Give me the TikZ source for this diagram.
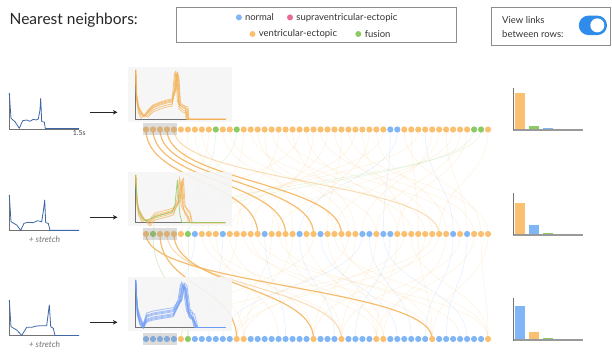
\documentclass[tikz,border=0pt]{standalone}
\usepackage{fontspec}
\setmainfont{Lato}
\usetikzlibrary{arrows.meta}
\pgfdeclarelayer{bg}
\pgfsetlayers{bg,main}
\definecolor{cO}{RGB}{250,192,112}
\definecolor{cB}{RGB}{128,182,245}
\definecolor{cG}{RGB}{140,202,100}
\definecolor{cP}{RGB}{232,106,150}
\definecolor{cL}{RGB}{244,178,88}
\definecolor{sigblue}{RGB}{62,104,165}
\definecolor{tglblue}{RGB}{48,140,235}
\begin{document}
\begin{tikzpicture}[x=1pt,y=-1pt,
  dot/.style={circle,inner sep=0pt,minimum size=6.2pt,draw=none},
  ldot/.style={circle,inner sep=0pt,minimum size=6pt,draw=none},
  strong/.style={line width=1.2pt,draw opacity=0.85},
  medium/.style={line width=1pt,draw opacity=0.45},
  faint/.style={line width=0.7pt,draw opacity=0.17},
  axisline/.style={draw=black!55,line width=0.8pt},
  baraxis/.style={draw=black!40,line width=1.6pt},
  sig/.style={draw=sigblue,line width=0.8pt,line join=round},
  trO/.style={draw=cL,line width=0.8pt,draw opacity=0.7,line join=round},
  trG/.style={draw=cG,line width=0.8pt,draw opacity=0.8,line join=round},
  trB/.style={draw=cB!85!blue,line width=0.8pt,draw opacity=0.6,line join=round},
  hl/.style={fill=black!45,fill opacity=0.3},
  chartbg/.style={fill=black!4,fill opacity=0.92},
  lgtext/.style={inner sep=0pt,anchor=west,font=\fontsize{9.5}{11}\selectfont,text=black!80},
  arr/.style={-{Stealth[length=4.5pt,width=4.5pt,inset=1.2pt]},line width=1pt,draw=black!85}
]
\useasboundingbox (0,0) rectangle (612,352);

% ---------- header ----------
\node[inner sep=0pt,anchor=west,font=\fontsize{15.5}{18}\selectfont,text=black!85] (title) at (9.5,20) {Nearest neighbors:};
\draw[draw=black!45,line width=0.7pt] (176.8,7) rectangle (455.9,42.2);
\node[ldot,fill=cB] (lgdB) at (238.9,17.4) {};
\node[lgtext] (lgB) at (244.8,17.4) {normal};
\node[ldot,fill=cP] (lgdP) at (290,17.4) {};
\node[lgtext] (lgP) at (296.2,17.4) {supraventricular-ectopic};
\node[ldot,fill=cO] (lgdO) at (252.5,34) {};
\node[lgtext] (lgO) at (258.6,34) {ventricular-ectopic};
\node[ldot,fill=cG] (lgdG) at (358.3,34) {};
\node[lgtext] (lgG) at (364.6,34) {fusion};

\draw[draw=black!45,line width=0.7pt] (491,7) rectangle (610.5,45.3);
\node[lgtext] (tg1) at (502,20.3) {View links};
\node[lgtext] (tg2) at (502,34.3) {between rows:};
\fill[tglblue,rounded corners=9.7pt] (578.8,15.6) rectangle (607,35.1);
\fill[white] (597.3,25.35) circle (7pt);

% ---------- dots ----------
\foreach \c [count=\i from 0] in {O,O,O,O,O,O,O,O,O,O, G,O,O,G,O,O,O,O,O,O, O,O,O,O,O,O,O,O,O,O, O,O,O,O,O,B,B,O,O,O, O,O,O,O,O,O,O,G,G,O}
  \node[dot,fill=c\c] (r1d\i) at ({146+6.98*\i},129.5) {};
\foreach \c [count=\i from 0] in {O,G,O,O,O,O,G,B,O,O, O,B,O,O,O,O,O,B,O,O, O,O,B,O,O,B,O,O,O,O, O,B,B,O,B,B,O,O,O,O, O,O,O,O,B,O,B,O,O,O}
  \node[dot,fill=c\c] (r2d\i) at ({146+6.98*\i},234) {};
\foreach \c [count=\i from 0] in {B,B,B,B,B,O,G,B,B,B, B,B,B,O,O,B,B,B,B,B, B,B,B,B,O,B,B,B,O,B, B,B,B,O,O,B,B,B,B,B, B,O,B,B,B,B,B,B,B,O}
  \node[dot,fill=c\c] (r3d\i) at ({146+6.98*\i},339) {};

% ---------- links (background) ----------
\begin{pgfonlayer}{bg}
\foreach \a/\b/\c in {5/9/O,6/2/O,7/14/O,8/19/O,9/4/O,10/6/G,11/27/O,12/33/O,13/1/G,14/10/O,15/38/O,16/29/O,17/21/O,18/40/O,19/13/O,20/45/O,21/30/O,22/3/O,23/36/O,24/18/O,25/47/O,26/15/O,27/41/O,28/26/O,29/49/O,30/12/O,31/37/O,32/23/O,33/43/O,34/8/O,35/34/B,36/22/B,37/48/O,38/39/O,39/5/O,40/44/B,41/31/O,42/27/O,43/46/O,44/19/O,45/33/O,46/36/O,47/6/G,48/1/G,49/42/O}
  \draw[faint,draw=c\c] (r1d\a.center) .. controls +(0,52) and +(0,-52) .. (r2d\b.center);
\foreach \a/\b/\c in {5/14/O,6/6/G,7/2/B,8/28/O,9/33/O,10/19/O,11/9/B,12/24/O,13/5/O,14/41/O,15/34/O,16/49/O,17/20/B,18/13/O,19/45/O,20/28/O,21/14/O,22/27/B,23/33/O,24/5/O,25/36/B,26/34/O,27/49/O,28/41/O,29/13/O,30/24/O,31/11/B,32/38/B,33/28/O,34/46/B,35/30/B,36/33/O,37/14/O,38/49/O,39/41/O,40/24/O,41/5/O,42/13/O,43/34/O,44/40/B,45/28/O,46/43/B,47/33/O,48/49/O,49/41/O}
  \draw[faint,draw=c\c] (r2d\a.center) .. controls +(0,52) and +(0,-52) .. (r3d\b.center);
\foreach \a/\b in {0/16,1/20,2/24,3/28}
  \draw[strong,draw=cL] (r1d\a.center) .. controls +(0,52) and +(0,-52) .. (r2d\b.center);
\draw[medium,draw=cL] (r1d4.center) .. controls +(0,52) and +(0,-52) .. (r2d42.center);
\foreach \a/\b in {0/41,2/13,4/24}
  \draw[strong,draw=cL] (r2d\a.center) .. controls +(0,52) and +(0,-52) .. (r3d\b.center);
\draw[medium,draw=cL] (r2d3.center) .. controls +(0,52) and +(0,-52) .. (r3d28.center);
\draw[faint,draw=cG,draw opacity=0.35] (r2d1.center) .. controls +(0,52) and +(0,-52) .. (r3d6.center);
\end{pgfonlayer}

% ---------- left signals ----------
\draw[axisline] (9.3,93.3) -- (9.3,129) -- (79,129);
\draw[sig] (9.3,93.3) -- (11,118.3) -- (15,121.7) -- (19.3,128.3) -- (22.7,120.7) -- (26.7,120) -- (30,121.3) -- (33.3,119.3) -- (36,120) -- (38.3,119) -- (40,110) -- (40.7,98.3) -- (41.7,121.7) -- (44.3,122) -- (45.3,128.5) -- (79,128.5);
\node[inner sep=0pt,font=\fontsize{7}{8}\selectfont,text=black!75] (lab15) at (79.3,133.5) {1.5s};

\draw[axisline] (9.3,195) -- (9.3,230.7) -- (79,230.7);
\draw[sig] (9.3,195) -- (11,221.7) -- (16.7,225) -- (20.7,230.4) -- (24,223.3) -- (28.3,222.3) -- (33.3,222.7) -- (37.3,220.7) -- (41.7,221.7) -- (43.5,210) -- (44.7,200) -- (45.7,222.7) -- (48.3,223.3) -- (50,230.4) -- (79,230.4);
\node[inner sep=0pt,font=\fontsize{8.5}{10}\selectfont\itshape,text=black!55] (st1) at (44.5,239.5) {+ stretch};

\draw[axisline] (9.3,300) -- (9.3,335.7) -- (79,335.7);
\draw[sig] (9.3,300) -- (11,326.7) -- (16.7,330) -- (21.7,335.4) -- (26.7,327.3) -- (31.7,327.3) -- (36.7,326) -- (41.7,325.7) -- (46.7,325.7) -- (49.3,305) -- (50.7,326.7) -- (53.3,328.3) -- (55,335.4) -- (79,335.4);
\node[inner sep=0pt,font=\fontsize{8.5}{10}\selectfont\itshape,text=black!55] (st2) at (44.5,344) {+ stretch};

% ---------- arrows ----------
\coordinate (a1s) at (90,112.3); \coordinate (a1e) at (117.5,112.3);
\coordinate (a2s) at (90,217.3); \coordinate (a2e) at (117.5,217.3);
\coordinate (a3s) at (90,322.3); \coordinate (a3e) at (117.5,322.3);
\draw[arr] (a1s) -- (a1e);
\draw[arr] (a2s) -- (a2e);
\draw[arr] (a3s) -- (a3e);

% ---------- middle charts ----------
\fill[chartbg] (128,66.7) rectangle (232,121.7);
\draw[axisline] (135.7,70) -- (135.7,119.3) -- (225.7,119.3);
\foreach \u/\v in {0/0,1/3,-1/-2,0.5/5,1.5/1,2/-1}
  \draw[trO] plot coordinates {(135.7,70) (136.5,{95+\v}) (138.5,{108+\v}) (141,{113+\v}) (144,116) (148,{112+\v}) (153,{107+\v}) (160,{104+\v}) (167,{102+\v}) (172,{101+\v}) ({174+\u},90) ({175.5+\u},{71+abs(\v)}) ({177+\u},78) ({178.5+\u},{104+\v}) ({182+\u},{107+\v}) ({186+\u},{108+\v}) ({187+\u},119.3) (225.7,119.3)};

\fill[chartbg] (128,171.7) rectangle (232,226);
\draw[axisline] (135.7,175) -- (135.7,222.7) -- (225.3,222.7);
\foreach \u/\v in {0/0,1.5/3,3/-2,2/5,4/1}
  \draw[trO] plot coordinates {(135.7,175) (137,{200+\v}) (138.5,{210+\v}) (142,{217+\v}) (145,{220}) (150,{221+\v}) (155,{215+\v}) (163.3,{213+\v}) (173.3,{210+\v}) ({177+\u},200) ({179.5+\u},{177+abs(\v)}) ({181+\u},205) ({183.3+\u},{210+\v}) ({186.7+\u},{213+\v}) ({188.3+\u},222.7) (225.3,222.7)};
\draw[trG] plot coordinates {(135.7,175) (137,202) (139,211) (143,219) (147,221) (152,218) (158,216) (165,214) (172,212) (175,205) (177.3,180) (179,205) (180,215) (182,222.5) (225.3,222.5)};

\fill[chartbg] (128,276.7) rectangle (232,331);
\draw[axisline] (135.7,280) -- (135.7,327.7) -- (225.3,327.7);
\foreach \u/\v in {0/0,1/3,-1/-2,2/5,0.5/-4,1.5/2,3/-1,2.5/4}
  \draw[trB] plot coordinates {(135.7,280) (137.3,{310+\v}) (140,{320+\v}) (143.3,{326+\v/2}) (146.7,{317+\v}) (153.3,{315+\v}) (163.3,{313.3+\v}) (173.3,{311.7+\v}) ({179+\u},300) ({181.5+\u},{282+abs(\v)}) ({184+\u},{285+abs(\v)}) ({187.5+\u},{313+\v}) ({191.5+\u},{315+\v}) ({195+\u},327.5) (225.3,327.5)};

% ---------- highlights ----------
\fill[hl] (142.7,123.5) rectangle (177.3,135.5);
\fill[hl] (142.7,228) rectangle (177.3,240);
\fill[hl] (142.7,333) rectangle (177.3,345);

% ---------- bar charts ----------
\fill[cO] (514.7,92.7) rectangle (525.3,130);
\fill[cG] (528.7,126) rectangle (538.7,130);
\fill[cB] (542.7,128) rectangle (553,130);
\draw[baraxis] (513.3,130) -- (582.7,130);
\draw[axisline] (513.3,88.3) -- (513.3,130.5);

\fill[cO] (514.7,203.3) rectangle (525.3,235);
\fill[cB] (528.7,225) rectangle (538.7,235);
\fill[cG] (542.7,233) rectangle (553,235);
\draw[baraxis] (513.3,235) -- (582.7,235);
\draw[axisline] (513.3,193.3) -- (513.3,235.5);

\fill[cB] (514.7,306) rectangle (525.3,340);
\fill[cO] (528.7,331.7) rectangle (538.7,340);
\fill[cG] (542.7,338) rectangle (553,340);
\draw[baraxis] (513.3,340) -- (582.7,340);
\draw[axisline] (513.3,298.3) -- (513.3,340.5);
\end{tikzpicture}
\end{document}
